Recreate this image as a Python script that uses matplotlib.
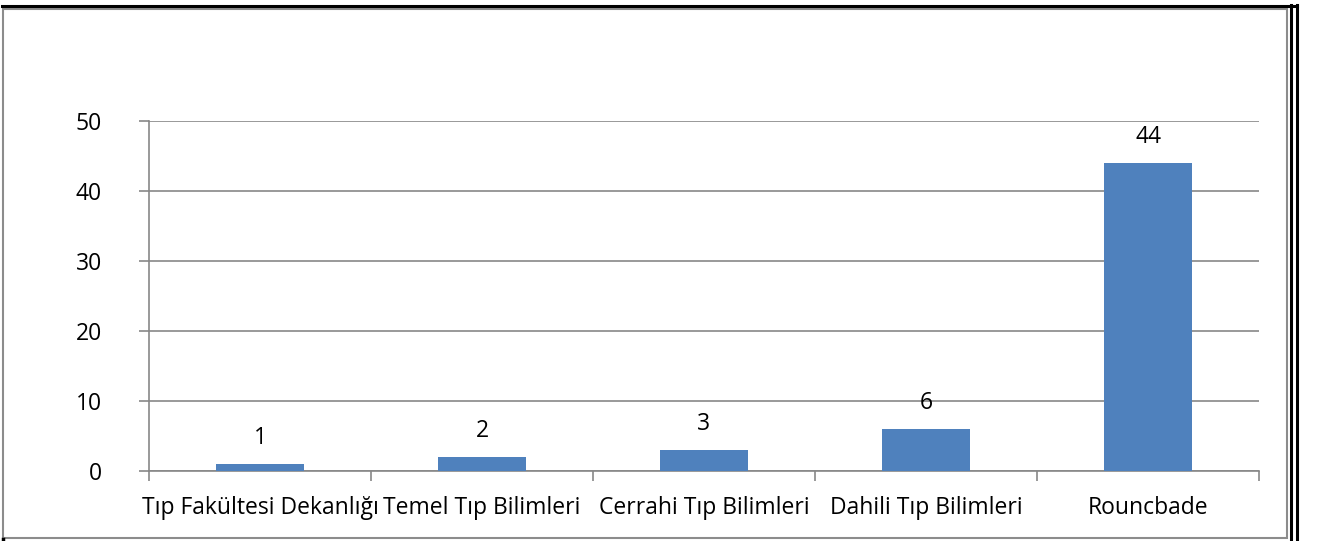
import matplotlib

matplotlib.use("Agg")
import matplotlib.pyplot as plt
from matplotlib.lines import Line2D
from matplotlib.patches import Rectangle

categories = ["Tıp Fakültesi Dekanlığı", "Temel Tıp Bilimleri", "Cerrahi Tıp Bilimleri",
              "Dahili Tıp Bilimleri", "Rouncbade"]
values = [1, 2, 3, 6, 44]
yticks = [0, 10, 20, 30, 40, 50]

plt.rcParams["font.family"] = ["Open Sans", "DejaVu Sans"]

W, H = 1318, 541
fig = plt.figure(figsize=(W / 100, H / 100), dpi=100)
ax = fig.add_axes([149 / W, 1 - 471 / H, (1259 - 149) / W, (471 - 121) / H])

grid = "#878787"
fs = 16.5
x = range(len(categories))
ax.bar(x, values, width=0.4, color="#4F81BD", zorder=3)
for i, v in zip(x, values):
    ax.annotate(str(v), (i, v), xytext=(0, 19), textcoords="offset points",
                ha="center", va="center", fontsize=fs)

ax.set_xlim(-0.5, len(categories) - 0.5)
ax.set_ylim(0, 50)
ax.set_yticks(yticks)
ax.set_yticklabels([str(t) for t in yticks], fontsize=fs)
ax.yaxis.grid(True, color=grid, linewidth=1.2)
ax.set_axisbelow(True)

ax.set_xticks([i - 0.5 for i in range(len(categories) + 1)], minor=False)
ax.set_xticklabels([])
ax.set_xticks(list(x), minor=True)
ax.set_xticklabels(categories, minor=True, fontsize=fs)
ax.tick_params(axis="x", which="major", length=7, color=grid, width=1.2)
ax.tick_params(axis="x", which="minor", length=0, pad=18)
ax.tick_params(axis="y", length=7, color=grid, width=1.2, pad=27)

for s in ["top", "right"]:
    ax.spines[s].set_visible(False)
for s in ["left", "bottom"]:
    ax.spines[s].set_color(grid)
    ax.spines[s].set_linewidth(1.2)

# frame
fig.patches.append(Rectangle((2.5 / W, 1 - 538 / H), (1287 - 2.5) / W, (538 - 8.5) / H,
                             transform=fig.transFigure, fill=False, edgecolor="#8c8c8c", lw=1.5))
fig.lines.append(Line2D([2 / W, 1297 / W], [1 - 5.5 / H, 1 - 5.5 / H],
                        transform=fig.transFigure, color="black", lw=2.2))
for xx in [1290.5, 1297]:
    fig.lines.append(Line2D([xx / W, xx / W], [1 - 5 / H, 0],
                            transform=fig.transFigure, color="black", lw=2.2))
fig.lines.append(Line2D([3 / W, 3 / W], [0, 1 - 539 / H],
                        transform=fig.transFigure, color="black", lw=2.5))

fig.savefig("out.png", dpi=100)
